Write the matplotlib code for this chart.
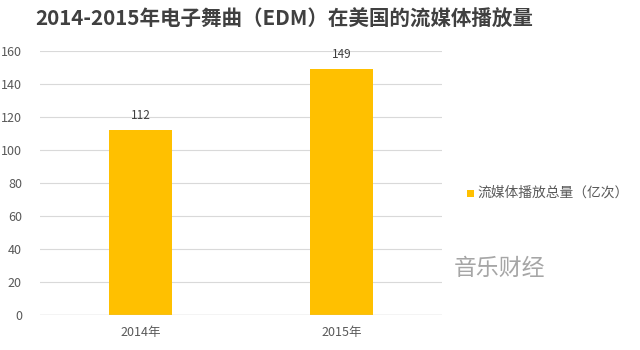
import matplotlib
matplotlib.use("Agg")
import matplotlib.pyplot as plt
from matplotlib.patches import Rectangle

plt.rcParams['font.family'] = ['Noto Sans CJK SC', 'DejaVu Sans']

years = ["2014年", "2015年"]
plays = [112, 149]
series_name = "流媒体播放总量（亿次）"
title = "2014-2015年电子舞曲（EDM）在美国的流媒体播放量"
yticks = [0, 20, 40, 60, 80, 100, 120, 140, 160]

bar_color = "#FFC000"
grid_color = "#d9d9d9"
text_color = "#595959"

fig = plt.figure(figsize=(6.4, 3.5), dpi=100)
ax = fig.add_axes([0.0625, 0.1, 0.628, 0.754])

x = list(range(len(years)))
bars = ax.bar(x, plays, width=0.31, color=bar_color, zorder=3)
for xi, v in zip(x, plays):
    ax.text(xi, v + 5, str(v), ha="center", va="bottom", fontsize=8.5, color="#404040")

ax.set_xlim(-0.5, 1.5)
ax.set_ylim(0, 160)
ax.set_yticks(yticks)
ax.set_xticks(x)
ax.set_xticklabels(years)
ax.yaxis.grid(True, color=grid_color, linewidth=0.8, zorder=0)
ax.axhline(0, color="#bfbfbf", linewidth=0.9, zorder=4)
for s in ax.spines.values():
    s.set_visible(False)
ax.tick_params(axis="both", length=0, labelsize=9, colors=text_color)
ax.tick_params(axis="y", pad=13)
ax.tick_params(axis="x", pad=8)

fig.text(0.055, 0.945, title, fontsize=14.8, fontweight="bold", color="#404040",
         ha="left", va="center")

# legend entry
fig.patches.append(Rectangle((467 / 640, 1 - 197 / 350), 7 / 640, 7 / 350,
                             transform=fig.transFigure, facecolor=bar_color,
                             edgecolor="none"))
fig.text(477 / 640, 1 - 193 / 350, series_name, fontsize=9.9, color=text_color,
         ha="left", va="center")

fig.text(454 / 640, 1 - 268 / 350, "音乐财经", fontsize=16.5, color="#a6a6a6",
         ha="left", va="center")

fig.savefig("out.png", dpi=100, facecolor="white")
